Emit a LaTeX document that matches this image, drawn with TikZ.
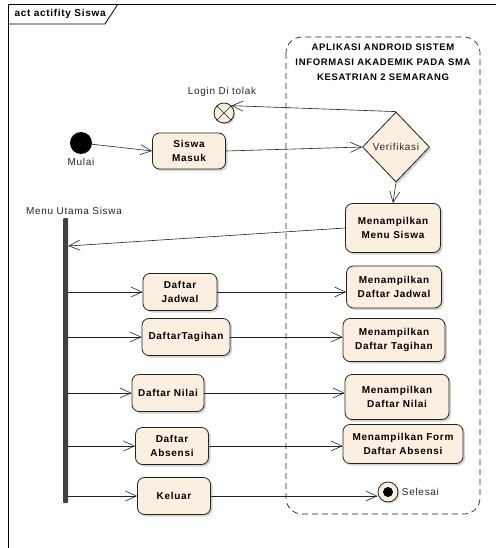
\documentclass[tikz,border=0pt]{standalone}
\usepackage{fontspec}
\setmainfont{Liberation Sans}[LetterSpace=7]
\usetikzlibrary{arrows.meta,shapes.geometric,shadows}
\definecolor{actfill}{RGB}{251,240,224}
\definecolor{linegray}{RGB}{35,35,35}

\begin{document}
\begin{tikzpicture}[x=1pt,y=-1pt,
	act/.style={draw=linegray, line width=0.8pt, fill=actfill, rounded corners=7pt, align=center, inner sep=2pt,
		font=\fontsize{10}{13.5}\selectfont\bfseries, drop shadow={shadow xshift=2pt, shadow yshift=-2pt, opacity=0.35}},
	flow/.style={draw=linegray, line width=0.6pt, -{Straight Barb[length=11pt,width=10pt]}},
	lbl/.style={font=\fontsize{10}{12}\selectfont, text=black!85}]
	\useasboundingbox (0,0) rectangle (496,548);

	% frame
	\draw[line width=0.8pt] (8,548) -- (8,4) -- (496,4);
	\draw[line width=0.8pt] (8,24) -- (105,24) -- (118,4);
	\node[anchor=west, font=\fontsize{10}{12}\selectfont\bfseries] (judul) at (11,14) {act actifity Siswa};

	% partisi aplikasi
	\draw[linegray, line width=0.7pt, dash pattern=on 6pt off 4pt, rounded corners=16pt] (286,37) rectangle (480,514);
	\node[font=\fontsize{9.5}{15}\selectfont\bfseries, align=center] (judulapp) at (383,62)
		{APLIKASI ANDROID SISTEM\\INFORMASI AKADEMIK PADA SMA\\KESATRIAN 2 SEMARANG};

	% awal, login, verifikasi
	\node[circle, fill=black, minimum size=22pt, inner sep=0, label={[lbl, label distance=1pt]below:Mulai}] (mulai) at (81,143) {};
	\node[act, minimum width=73pt, minimum height=36pt] (masuk) at (189,151) {Siswa\\Masuk};
	\node[diamond, draw=linegray, line width=0.8pt, fill=actfill, minimum width=67pt, minimum height=70pt, inner sep=0, lbl,
		drop shadow={shadow xshift=2pt, shadow yshift=-2pt, opacity=0.35}] (ver) at (396,147) {Verifikasi};
	\node[circle, draw=linegray, line width=0.8pt, fill=actfill, minimum size=20pt, inner sep=0,
		drop shadow={shadow xshift=1.5pt, shadow yshift=-1.5pt, opacity=0.35}] (login) at (224,113) {};
	\draw[linegray, line width=0.7pt] (login.45) -- (login.225) (login.135) -- (login.315);
	\node[lbl] (loginlbl) at (222,92) {Login Di tolak};
	\node[act, minimum width=95pt, minimum height=49pt] (menu) at (393,228) {Menampilkan\\Menu Siswa};

	% menu utama
	\node[fill=black!75, minimum width=5pt, minimum height=285pt, inner sep=0, rounded corners=1pt] (bar) at (65.5,360.5) {};
	\node[lbl] (barlbl) at (74,211) {Menu Utama Siswa};

	\foreach \nm/\x/\y/\w/\txt in {jadwal/180/292/74/{Daftar\\Jadwal}, tagihan/186/337/88/{DaftarTagihan},
		nilai/168/393/72/{Daftar Nilai}, absensi/172/446/73/{Daftar\\Absensi}, keluar/174/496/73/{Keluar}}
		\node[act, minimum width=\w pt, minimum height=37pt] (\nm) at (\x,\y) {\txt};

	\foreach \nm/\x/\y/\w/\h/\txt in {mjadwal/394/287/95/42/{Menampilkan\\Daftar Jadwal},
		mtagihan/394/340/102/43/{Menampilkan\\Daftar Tagihan}, mnilai/397/397/104/45/{Menampilkan\\Daftar Nilai},
		mabsensi/403/444/120/39/{Menampilkan Form\\Daftar Absensi}}
		\node[act, minimum width=\w pt, minimum height=\h pt] (\nm) at (\x,\y) {\txt};

	\node[circle, draw=linegray, line width=0.8pt, fill=actfill, minimum size=20pt, inner sep=0, label={[lbl]right:Selesai},
		drop shadow={shadow xshift=1.5pt, shadow yshift=-1.5pt, opacity=0.35}] (selesai) at (388,492) {};
	\fill (selesai.center) circle (5pt);

	% alur
	\draw[flow] (mulai) -- (masuk.west);
	\draw[flow] (masuk.east) -- (ver.west);
	\draw[flow] (ver.north) -- (login.north east);
	\draw[flow] (ver.south) -- (menu.north);
	\coordinate (menuin) at (bar.east |- 0,246);
	\draw[flow] (menu.west) -- (menuin);
	\foreach \nm in {jadwal, tagihan, nilai, absensi, keluar}
		\draw[flow] (bar.east |- \nm.west) -- (\nm.west);
	\foreach \a/\b in {jadwal/mjadwal, tagihan/mtagihan, nilai/mnilai, absensi/mabsensi, keluar/selesai}
		\draw[flow] (\a.east) -- (\a.east -| \b.west);

\end{tikzpicture}
\end{document}
